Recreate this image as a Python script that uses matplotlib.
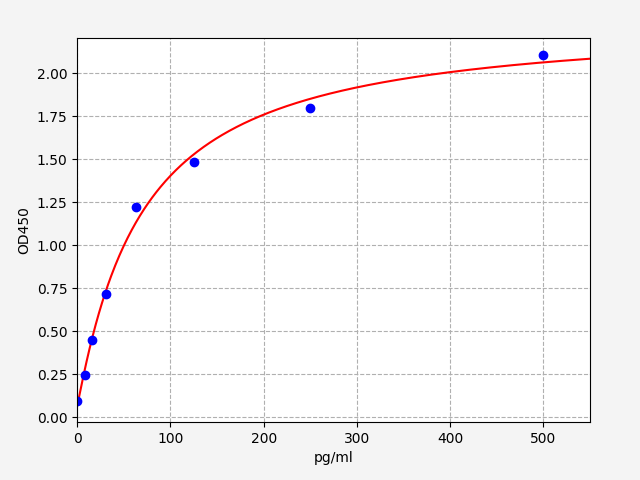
import numpy as np
import matplotlib
matplotlib.use("Agg")
import matplotlib.pyplot as plt

# standard points
conc = np.array([0, 7.8, 15.6, 31.25, 62.5, 125, 250, 500])
od = np.array([0.093, 0.244, 0.447, 0.717, 1.223, 1.483, 1.800, 2.105])


def four_pl(x, p):
    a, b, c, d = p
    return d + (a - d) / (1.0 + (np.maximum(x, 1e-9) / c) ** b)


def fit_4pl(x, y, p0, n_iter=500):
    # small Levenberg-Marquardt, no scipy here
    p = np.array(p0, dtype=float)
    lam = 1e-2
    for _ in range(n_iter):
        r = y - four_pl(x, p)
        J = np.zeros((len(x), len(p)))
        for k in range(len(p)):
            dp = np.zeros_like(p)
            dp[k] = 1e-6 * max(abs(p[k]), 1.0)
            J[:, k] = (four_pl(x, p + dp) - four_pl(x, p)) / dp[k]
        A = J.T @ J
        g = J.T @ r
        step = np.linalg.solve(A + lam * np.diag(np.diag(A)), g)
        p_new = p + step
        if p_new[2] > 0 and np.sum((y - four_pl(x, p_new)) ** 2) < np.sum(r ** 2):
            p = p_new
            lam *= 0.5
        else:
            lam *= 5
    return p


params = fit_4pl(conc, od, [0.09, 1.0, 100.0, 2.4])
xs = np.linspace(0, 550, 500)

fig = plt.figure(figsize=(6.4, 4.8), dpi=100, facecolor="#f4f4f4")
ax = fig.add_axes([0.1208, 0.1208, 0.8008, 0.7995])
ax.plot(xs, four_pl(xs, params), color="r", linewidth=1.5)
ax.plot(conc, od, "o", color="b", markersize=6)
ax.grid(True, linestyle="--", color="#b0b0b0")
ax.set_xlim(0, 550)
ax.set_ylim(-0.027, 2.203)
ax.set_xlabel("pg/ml")
ax.set_ylabel("OD450")
plt.savefig("out.png", facecolor=fig.get_facecolor())
